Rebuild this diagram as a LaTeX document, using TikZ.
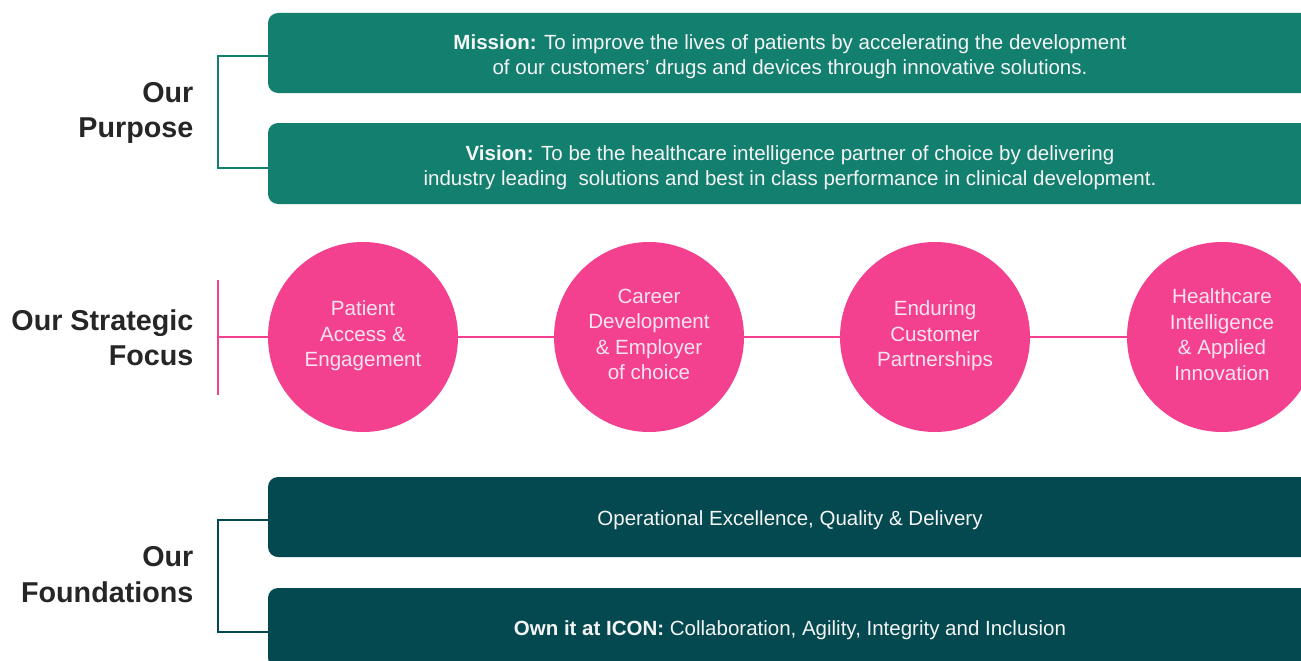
\documentclass[tikz,border=0pt]{standalone}
\usepackage{fontspec}
\setmainfont{Liberation Sans}
\definecolor{teal1}{HTML}{13806F}
\definecolor{teal2}{HTML}{04494F}
\definecolor{pinkc}{HTML}{F3408F}
\definecolor{labelc}{HTML}{262626}
\definecolor{boxtext}{HTML}{F4F4F4}
\definecolor{circtext}{HTML}{FBE4EF}
\begin{document}
\begin{tikzpicture}[x=1pt,y=-1pt,
  bar/.style={rounded corners=10pt, minimum width=1044pt, inner sep=0pt},
  bartext/.style={text=boxtext, align=center, inner sep=0pt,
     font=\fontsize{20.5}{25}\selectfont},
  circ/.style={circle, fill=pinkc, minimum size=190pt, inner sep=0pt},
  circtxt/.style={text=circtext, align=center, inner sep=0pt,
     font=\fontsize{20.6}{25.5}\selectfont},
  lbl/.style={anchor=east, align=right, text=labelc, inner sep=0pt,
     font=\fontsize{28.7}{35.5}\selectfont\bfseries},
  brk/.style={line width=2pt},
  pbrk/.style={pinkc, line width=2.5pt}]
\useasboundingbox (0,0) rectangle (1301,661);
\clip (0,0) rectangle (1301,661);
\fill[white] (0,0) rectangle (1301,661);
% purpose
\node[bar, fill=teal1, minimum height=80pt] (mission) at (790,53) {};
\node[bartext] (missiontext) at ([yshift=-4pt]mission.center)
  {\textbf{Mission:} To improve the lives of patients by accelerating the development\\of our customers’ drugs and devices through innovative solutions.};
\node[bar, fill=teal1, minimum height=81pt] (vision) at (790,163.5) {};
\node[bartext] (visiontext) at ([yshift=-4pt]vision.center)
  {\textbf{Vision:} To be the healthcare intelligence partner of choice by delivering\\industry leading\ \ solutions and best in class performance in clinical development.};
\draw[brk, teal1] ([yshift=-3pt]mission.west) -- ++(-50,0) |- ([yshift=-4.5pt]vision.west);
\node[lbl] (purpose) at (193.5,113) {Our\\Purpose};
% strategic focus
\node[circ] (c1) at (363,337) {};
\node[circ] (c2) at (649,337) {};
\node[circ] (c3) at (935,337) {};
\node[circ] (c4) at (1222,337) {};
\node[circtxt] (t1) at ([yshift=1pt]c1.center) {Patient\\Access \&\\Engagement};
\node[circtxt] (t2) at ([yshift=2.5pt]c2.center) {Career\\Development\\\& Employer\\of choice};
\node[circtxt] (t3) at ([yshift=1pt]c3.center) {Enduring\\Customer\\Partnerships};
\node[circtxt] (t4) at ([yshift=2.5pt]c4.center) {Healthcare\\Intelligence\\\& Applied\\Innovation};
\coordinate (ptop) at (218,280);
\coordinate (pbot) at (218,395);
\coordinate (pmid) at (218,337);
\draw[pbrk] (ptop) -- (pbot);
\draw[pbrk] (pmid) -- (c1.west);
\draw[pbrk] (c1.east) -- (c2.west);
\draw[pbrk] (c2.east) -- (c3.west);
\draw[pbrk] (c3.east) -- (c4.west);
\node[lbl] (focus) at (193.5,337.5) {Our Strategic\\Focus};
% foundations
\node[bar, fill=teal2, minimum height=80pt] (f1) at (790,517) {};
\node[bartext] (f1text) at ([yshift=-3.5pt]f1.center)
  {Operational Excellence, Quality \& Delivery};
\node[bar, fill=teal2, minimum height=80pt] (f2) at (790,628) {};
\node[bartext] (f2text) at ([yshift=-2.5pt]f2.center)
  {\textbf{Own it at ICON:} Collaboration, Agility, Integrity and Inclusion};
\draw[brk, teal2] ([yshift=-3pt]f1.west) -- ++(-50,0) |- ([yshift=-4pt]f2.west);
\node[lbl] (found) at (193.5,574.5) {Our\\Foundations};
\end{tikzpicture}
\end{document}
